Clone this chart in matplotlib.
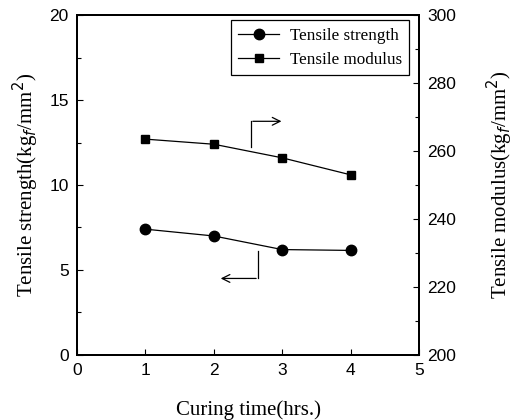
import matplotlib.pyplot as plt
from matplotlib.ticker import MultipleLocator

hours = [1, 2, 3, 4]
strength = [7.4, 7.0, 6.2, 6.15]
modulus = [263.5, 262.0, 258.0, 253.0]

serif = ['Liberation Serif', 'DejaVu Serif']
sans = ['Liberation Sans', 'DejaVu Sans']

fig = plt.figure(figsize=(5.14, 4.2), dpi=100)
ax = fig.add_axes([0.150, 0.155, 0.665, 0.809])
ax2 = ax.twinx()

l1, = ax.plot(hours, strength, color='black', lw=0.9, marker='o', markersize=7.5)
l2, = ax2.plot(hours, modulus, color='black', lw=0.9, marker='s', markersize=6)

ax.set_xlim(0, 5)
ax.set_ylim(0, 20)
ax2.set_ylim(200, 300)
ax.xaxis.set_major_locator(MultipleLocator(1))
ax.yaxis.set_major_locator(MultipleLocator(5))
ax.yaxis.set_minor_locator(MultipleLocator(2.5))
ax2.yaxis.set_major_locator(MultipleLocator(20))
ax2.yaxis.set_minor_locator(MultipleLocator(10))

for a in (ax, ax2):
    a.tick_params(which='both', direction='in', labelsize=12.5, width=0.8)
    a.tick_params(which='major', length=4, pad=6)
    a.tick_params(which='minor', length=3)
    for lab in a.get_xticklabels() + a.get_yticklabels():
        lab.set_family(sans)
    for s in a.spines.values():
        s.set_linewidth(1.4)

ax.set_xlabel('Curing time(hrs.)', family=serif, fontsize=15, labelpad=16)
ax.set_ylabel('Tensile strength(kg$_f$/mm$^2$)', family=serif, fontsize=15, labelpad=6)
ax2.set_ylabel('Tensile modulus(kg$_f$/mm$^2$)', family=serif, fontsize=15, labelpad=21)

# pointer arrows to the axes
ax.plot([2.54, 2.54], [12.25, 13.75], color='black', lw=0.9)
ax.annotate('', xy=(3.03, 13.75), xytext=(2.53, 13.75),
            arrowprops=dict(arrowstyle='->', color='black', lw=0.9,
                            mutation_scale=14))
ax.plot([2.65, 2.65], [6.1, 4.5], color='black', lw=0.9)
ax.annotate('', xy=(2.06, 4.5), xytext=(2.66, 4.5),
            arrowprops=dict(arrowstyle='->', color='black', lw=0.9,
                            mutation_scale=14))

leg = ax.legend([l1, l2], ['Tensile strength', 'Tensile modulus'],
                loc='upper right', bbox_to_anchor=(0.972, 0.985),
                prop={'family': serif, 'size': 12.3}, fancybox=False,
                edgecolor='black', framealpha=1, handlelength=2.4,
                handletextpad=0.6, borderpad=0.45, labelspacing=0.45,
                borderaxespad=0)
leg.get_frame().set_linewidth(0.9)

fig.savefig('out.png', dpi=100)
